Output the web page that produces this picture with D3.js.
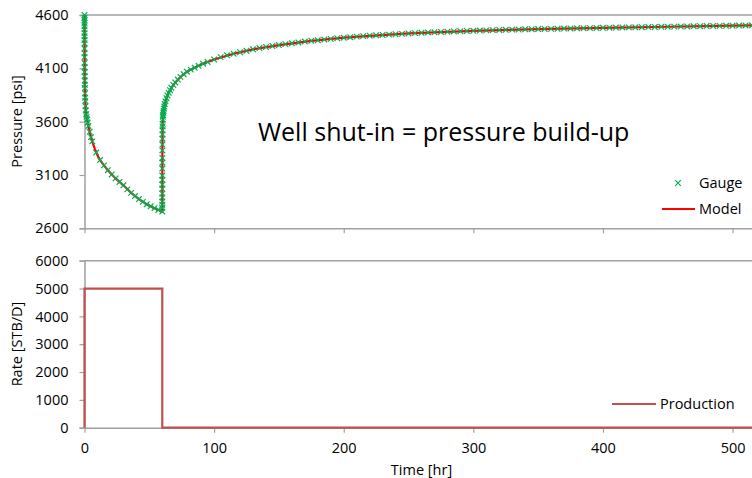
<!DOCTYPE html>
<html>
<head>
<meta charset="utf-8">
<script src="https://cdn.jsdelivr.net/npm/d3@7/dist/d3.min.js"></script>
<style>
  html, body { margin: 0; padding: 0; background: #fff; }
  svg { display: block; font-family: "Open Sans", "Noto Sans", sans-serif; }
  .tick text { fill: #000; }
</style>
</head>
<body>
<svg id="chart" width="752" height="478"></svg>
<script>
// ---- Gauge pressure record (hours, psi) ----
const gaugeTime = [
  0, 0.002, 0.004, 0.006, 0.009, 0.012, 0.016, 0.02, 0.025, 0.03, 0.04, 0.05, 0.06, 0.08, 0.1,
  0.13, 0.16, 0.2, 0.25, 0.3, 0.4, 0.5, 0.6, 0.8, 1, 1.3, 1.6, 2, 2.5, 3, 4, 5, 6,
  9, 12, 15, 18, 21, 24, 27, 30, 33, 36, 39, 42, 45, 48, 51, 54, 57, 60,
  60.002, 60.004, 60.006, 60.009, 60.012, 60.016, 60.02, 60.025, 60.03, 60.04, 60.05, 60.06,
  60.08, 60.1, 60.13, 60.16, 60.2, 60.25, 60.3, 60.4, 60.5, 60.6, 60.8, 61, 61.3, 61.6, 62,
  62.5, 63.2, 64, 65, 66, 67, 68.5, 70, 72, 74, 76.5, 79, 82, 85, 88, 91.5, 95,
  100, 105, 110, 115, 120, 125, 130, 135, 140, 145, 150, 155, 160, 165, 170, 175, 180,
  185, 190, 195, 200, 205, 210, 215, 220, 225, 230, 235, 240, 245, 250, 255, 260, 265,
  270, 275, 280, 285, 290, 295, 300, 305, 310, 315, 320, 325, 330, 335, 340, 345, 350,
  355, 360, 365, 370, 375, 380, 385, 390, 395, 400, 405, 410, 415, 420, 425, 430, 435,
  440, 445, 450, 455, 460, 465, 470, 475, 480, 485, 490, 495, 500, 505, 510, 515, 520, 525
];
const gaugePressure = [
  4600, 4575, 4550, 4525, 4495, 4465, 4430, 4400, 4365, 4335, 4285, 4240, 4205, 4150, 4110,
  4065, 4025, 3985, 3945, 3915, 3865, 3825, 3795, 3745, 3705, 3670, 3645, 3620, 3590, 3560, 3505, 3455, 3415,
  3310, 3240, 3190, 3145, 3105, 3068, 3035, 3003, 2965, 2932, 2902, 2874, 2848, 2825, 2806, 2789, 2772, 2757,
  2790, 2820, 2850, 2890, 2925, 2970, 3010, 3055, 3095, 3160, 3215, 3260,
  3330, 3385, 3440, 3480, 3520, 3555, 3580, 3620, 3645, 3662, 3683, 3700, 3722, 3742, 3765,
  3790, 3820, 3846, 3870, 3895, 3917, 3945, 3968, 3995, 4020, 4045, 4068, 4088, 4106, 4124, 4143, 4160,
  4183, 4205, 4222, 4237, 4251, 4264, 4278, 4290, 4300, 4309, 4318, 4327, 4335, 4343, 4351, 4358, 4364,
  4370, 4376, 4382, 4387, 4392, 4397, 4402, 4406, 4410, 4413, 4416, 4420, 4423, 4427, 4430, 4433, 4436,
  4438, 4441, 4443, 4446, 4448, 4450, 4452, 4454, 4456, 4458, 4460, 4461, 4463, 4464, 4466, 4467, 4468,
  4469, 4470, 4471, 4473, 4474, 4475, 4476, 4477, 4478, 4480, 4481, 4482, 4483, 4484, 4485, 4486, 4487,
  4488, 4489, 4490, 4491, 4492, 4493, 4494, 4495, 4496, 4497, 4498, 4499, 4500, 4501, 4502, 4503, 4504, 4505
];

// ---- Model pressure response (hours, psi) ----
const modelTime = [
  0, 0.01, 0.03, 0.1, 0.3, 0.6, 1, 1.5, 2, 3, 4, 5, 6.5, 8, 10, 12, 15, 18, 24, 30, 36, 42, 48, 54, 60,
  60.01, 60.03, 60.1, 60.3, 61, 62, 64, 67, 70, 75, 80, 90, 100, 115, 130, 150,
  175, 200, 250, 300, 350, 400, 450, 500, 525
];
const modelPressure = [
  4600, 4475, 4335, 4110, 3915, 3795, 3705, 3655, 3620, 3560, 3505, 3455, 3395, 3345, 3285, 3240, 3190, 3145, 3068, 3003, 2932, 2874, 2825, 2789, 2757,
  2900, 3095, 3385, 3580, 3700, 3765, 3846, 3917, 3968, 4030, 4076, 4136, 4183, 4237, 4278, 4318,
  4358, 4387, 4427, 4452, 4468, 4480, 4490, 4500, 4505
];

// ---- Production rate schedule (hours, STB/D) ----
const rateTime = [0, 0, 60, 60, 525];
const rateValue = [0, 5000, 5000, 0, 0];

// ---- Axis ticks ----
const timeTicks = [0, 100, 200, 300, 400, 500];
const pressureTicks = [2600, 3100, 3600, 4100, 4600];
const rateTicks = [0, 1000, 2000, 3000, 4000, 5000, 6000];

const svg = d3.select("#chart");
const axisColor = "#a0a0a0";
const fontSize = "14.5px";

const x = d3.scaleLinear().domain([0, 520]).range([84.5, 758.5]);
const yP = d3.scaleLinear().domain([2600, 4600]).range([228.3, 15]);
const yR = d3.scaleLinear().domain([0, 6000]).range([427.7, 260.7]);

function drawFrame(y, ticks, showXLabels) {
  const top = y.range()[1], bottom = y.range()[0];
  const [left, right] = x.range();
  // top border
  svg.append("line").attr("x1", left).attr("x2", right).attr("y1", top).attr("y2", top)
    .attr("stroke", axisColor).attr("stroke-width", 1.5);
  // left axis
  const ya = svg.append("g").attr("transform", `translate(${left},0)`)
    .call(d3.axisLeft(y).tickValues(ticks).tickSize(5).tickPadding(11).tickFormat(d3.format("d")));
  ya.select(".domain").attr("stroke", axisColor).attr("stroke-width", 1.5);
  ya.selectAll(".tick line").attr("stroke", axisColor).attr("stroke-width", 1.2);
  ya.selectAll(".tick text").style("font-size", fontSize).attr("font-family", "'Open Sans', sans-serif");
  // bottom axis
  const xa = svg.append("g").attr("transform", `translate(0,${bottom})`)
    .call(d3.axisBottom(x).tickValues(timeTicks).tickSizeInner(5).tickSizeOuter(0).tickPadding(10)
      .tickFormat(showXLabels ? d3.format("d") : () => ""));
  xa.select(".domain").attr("stroke", axisColor).attr("stroke-width", 1.5);
  xa.selectAll(".tick line").attr("stroke", axisColor).attr("stroke-width", 1.2);
  xa.selectAll(".tick text").style("font-size", fontSize).attr("font-family", "'Open Sans', sans-serif");
}

drawFrame(yP, pressureTicks, false);
drawFrame(yR, rateTicks, true);

// ---- Pressure panel ----
const modelLine = d3.line().x((d, i) => x(modelTime[i])).y(d => yP(d));
svg.append("path").datum(modelPressure)
  .attr("d", modelLine).attr("fill", "none")
  .attr("stroke", "#ff0000").attr("stroke-width", 2.2);

const marker = "M-2.8,-2.8L2.8,2.8M-2.8,2.8L2.8,-2.8";
svg.append("g").selectAll("path").data(gaugePressure).join("path")
  .attr("transform", (d, i) => `translate(${x(gaugeTime[i])},${yP(d)})`)
  .attr("d", marker).attr("stroke", "#00b050").attr("stroke-width", 1.2).attr("fill", "none");

// ---- Rate panel ----
const rateLine = d3.line().x((d, i) => x(rateTime[i])).y(d => yR(d));
svg.append("path").datum(rateValue)
  .attr("d", rateLine).attr("fill", "none")
  .attr("stroke", "#c0504d").attr("stroke-width", 2.2);

// ---- Axis titles ----
svg.append("text").attr("transform", "translate(22,121.5) rotate(-90)")
  .attr("text-anchor", "middle").style("font-size", fontSize).text("Pressure [psi]");
svg.append("text").attr("transform", "translate(22,344) rotate(-90)")
  .attr("text-anchor", "middle").style("font-size", fontSize).text("Rate [STB/D]");
svg.append("text").attr("x", 421.5).attr("y", 475)
  .attr("text-anchor", "middle").style("font-size", fontSize).text("Time [hr]");

// ---- Annotation ----
svg.append("text").attr("x", 258).attr("y", 141)
  .style("font-size", "25px").text("Well shut-in = pressure build-up");

// ---- Legends ----
svg.append("path").attr("transform", "translate(678,183)").attr("d", marker)
  .attr("stroke", "#00b050").attr("stroke-width", 1.2).attr("fill", "none");
svg.append("text").attr("x", 699).attr("y", 183).attr("dy", "0.35em")
  .style("font-size", fontSize).text("Gauge");
svg.append("line").attr("x1", 662).attr("x2", 695).attr("y1", 209).attr("y2", 209)
  .attr("stroke", "#ff0000").attr("stroke-width", 2.2);
svg.append("text").attr("x", 699).attr("y", 209).attr("dy", "0.35em")
  .style("font-size", fontSize).text("Model");

svg.append("line").attr("x1", 612).attr("x2", 656).attr("y1", 404).attr("y2", 404)
  .attr("stroke", "#c0504d").attr("stroke-width", 2.2);
svg.append("text").attr("x", 660).attr("y", 404).attr("dy", "0.35em")
  .style("font-size", fontSize).text("Production");
</script>
</body>
</html>
